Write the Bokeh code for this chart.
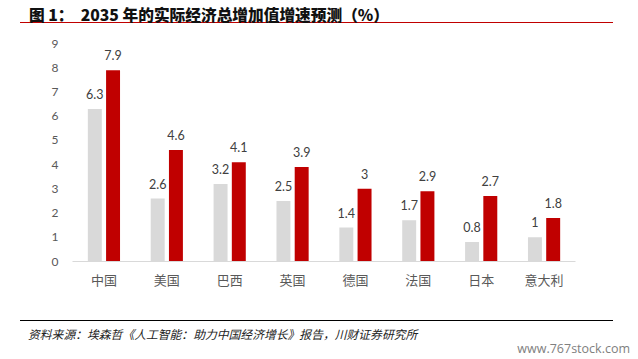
from bokeh.plotting import figure
from bokeh.models import (ColumnDataSource, FactorRange, Range1d, FixedTicker,
                          Legend, LegendItem, Div)
from bokeh.layouts import column
from bokeh.transform import dodge
from bokeh.core.properties import value
from bokeh.embed import file_html
from bokeh.resources import INLINE

categories = ["中国", "美国", "巴西", "英国", "德国", "法国", "日本", "意大利"]
baseline = [6.3, 2.6, 3.2, 2.5, 1.4, 1.7, 0.8, 1]
ai_state = [7.9, 4.6, 4.1, 3.9, 3, 2.9, 2.7, 1.8]
series_names = ["基准线", "人工智能稳定发挥状态"]
y_ticks = [0, 1, 2, 3, 4, 5, 6, 7, 8, 9]

title_text = "图 1：  2035 年的实际经济总增加值增速预测（%）"
source_text = "资料来源：埃森哲《人工智能：助力中国经济增长》报告，川财证券研究所"
watermark = "www.767stock.com"

def fmt(v):
    return f"{v:g}"

src = ColumnDataSource(dict(
    cat=categories,
    base=baseline,
    ai=ai_state,
    base_lbl=[fmt(v) for v in baseline],
    ai_lbl=[fmt(v) for v in ai_state],
))

W = 622
p = figure(x_range=FactorRange(*categories, range_padding=0),
           y_range=Range1d(0, 9),
           width=W, height=289, output_backend="svg", toolbar_location=None,
           min_border_left=64, min_border_right=55,
           min_border_top=19, min_border_bottom=52)
p.outline_line_color = None
p.background_fill_color = "white"
p.border_fill_color = "white"
p.xgrid.grid_line_color = None
p.ygrid.grid_line_color = None

gray = "#d9d9d9"
red = "#c00000"
bw = 0.222
off = 0.145

r1 = p.vbar(x=dodge("cat", -off, range=p.x_range), top="base", width=bw,
            source=src, fill_color=gray, line_color=None)
r2 = p.vbar(x=dodge("cat", off, range=p.x_range), top="ai", width=bw,
            source=src, fill_color=red, line_color=None)

lbl_font = value("Lato")
p.text(x=dodge("cat", -off, range=p.x_range), y="base", text="base_lbl", source=src,
       text_align="center", text_baseline="bottom", y_offset=-10,
       text_font=lbl_font, text_font_size="12.5px", text_color="#404040")
p.text(x=dodge("cat", off, range=p.x_range), y="ai", text="ai_lbl", source=src,
       text_align="center", text_baseline="bottom", y_offset=-10,
       text_font=lbl_font, text_font_size="12.5px", text_color="#404040")

# axes
p.yaxis.ticker = FixedTicker(ticks=y_ticks)
p.yaxis.axis_line_color = None
p.yaxis.major_tick_line_color = None
p.yaxis.minor_tick_line_color = None
p.yaxis.major_tick_out = 0
p.yaxis.major_label_standoff = 14
p.yaxis.major_label_text_font = "Lato"
p.yaxis.major_label_text_font_size = "12px"
p.yaxis.major_label_text_color = "#595959"

p.xaxis.axis_line_color = "#d9d9d9"
p.xaxis.axis_line_width = 1
p.xaxis.major_tick_line_color = None
p.xaxis.minor_tick_line_color = None
p.xaxis.major_tick_out = 0
p.xaxis.major_label_standoff = 8
p.xaxis.major_label_text_font = "Noto Sans CJK SC"
p.xaxis.major_label_text_font_size = "13px"
p.xaxis.major_label_text_color = "#595959"

legend = Legend(items=[LegendItem(label=series_names[0], renderers=[r1]),
                       LegendItem(label=series_names[1], renderers=[r2])],
                orientation="horizontal", location=(139.5, -49),
                glyph_width=10, glyph_height=10, label_standoff=2, spacing=20,
                padding=0, margin=0, border_line_color=None,
                background_fill_alpha=0,
                label_text_font="Noto Sans CJK SC", label_text_font_size="13px",
                label_text_color="#595959", label_height=18)
p.add_layout(legend, "center")

title_html = (
    '<div style="position:relative;width:622px;height:16px;">'
    '<div style="position:absolute;left:12px;top:14px;width:593px;height:0;'
    'border-top:1px solid #c00000;"></div>'
    '<div style="position:absolute;left:21px;top:-1px;white-space:pre;'
    "font-family:'Noto Sans CJK SC';font-weight:900;font-size:15.7px;line-height:15px;"
    f'color:#111;">{title_text}</div>'
    '</div>'
)
title_div = Div(text=title_html, width=W, height=16, margin=0)

footer_html = (
    '<div style="position:relative;width:622px;height:38px;">'
    '<div style="position:absolute;left:12px;top:7px;width:593px;height:0;'
    'border-top:1px solid #000;"></div>'
    '<div style="position:absolute;left:20px;top:14px;white-space:pre;'
    "font-family:'Noto Sans CJK SC';font-style:italic;font-size:11.8px;line-height:14px;"
    f'color:#222;">{source_text}</div>'
    '<div style="position:absolute;right:0px;top:29px;white-space:pre;'
    "font-family:'Open Sans';font-size:12.5px;line-height:14px;"
    f'color:#808080;">{watermark}</div>'
    '</div>'
)
footer_div = Div(text=footer_html, width=W, height=38, margin=0)

layout = column(title_div, p, footer_div, spacing=0, margin=(8, 8, 8, 8))

open("out.html", "w").write(file_html(layout, INLINE))
